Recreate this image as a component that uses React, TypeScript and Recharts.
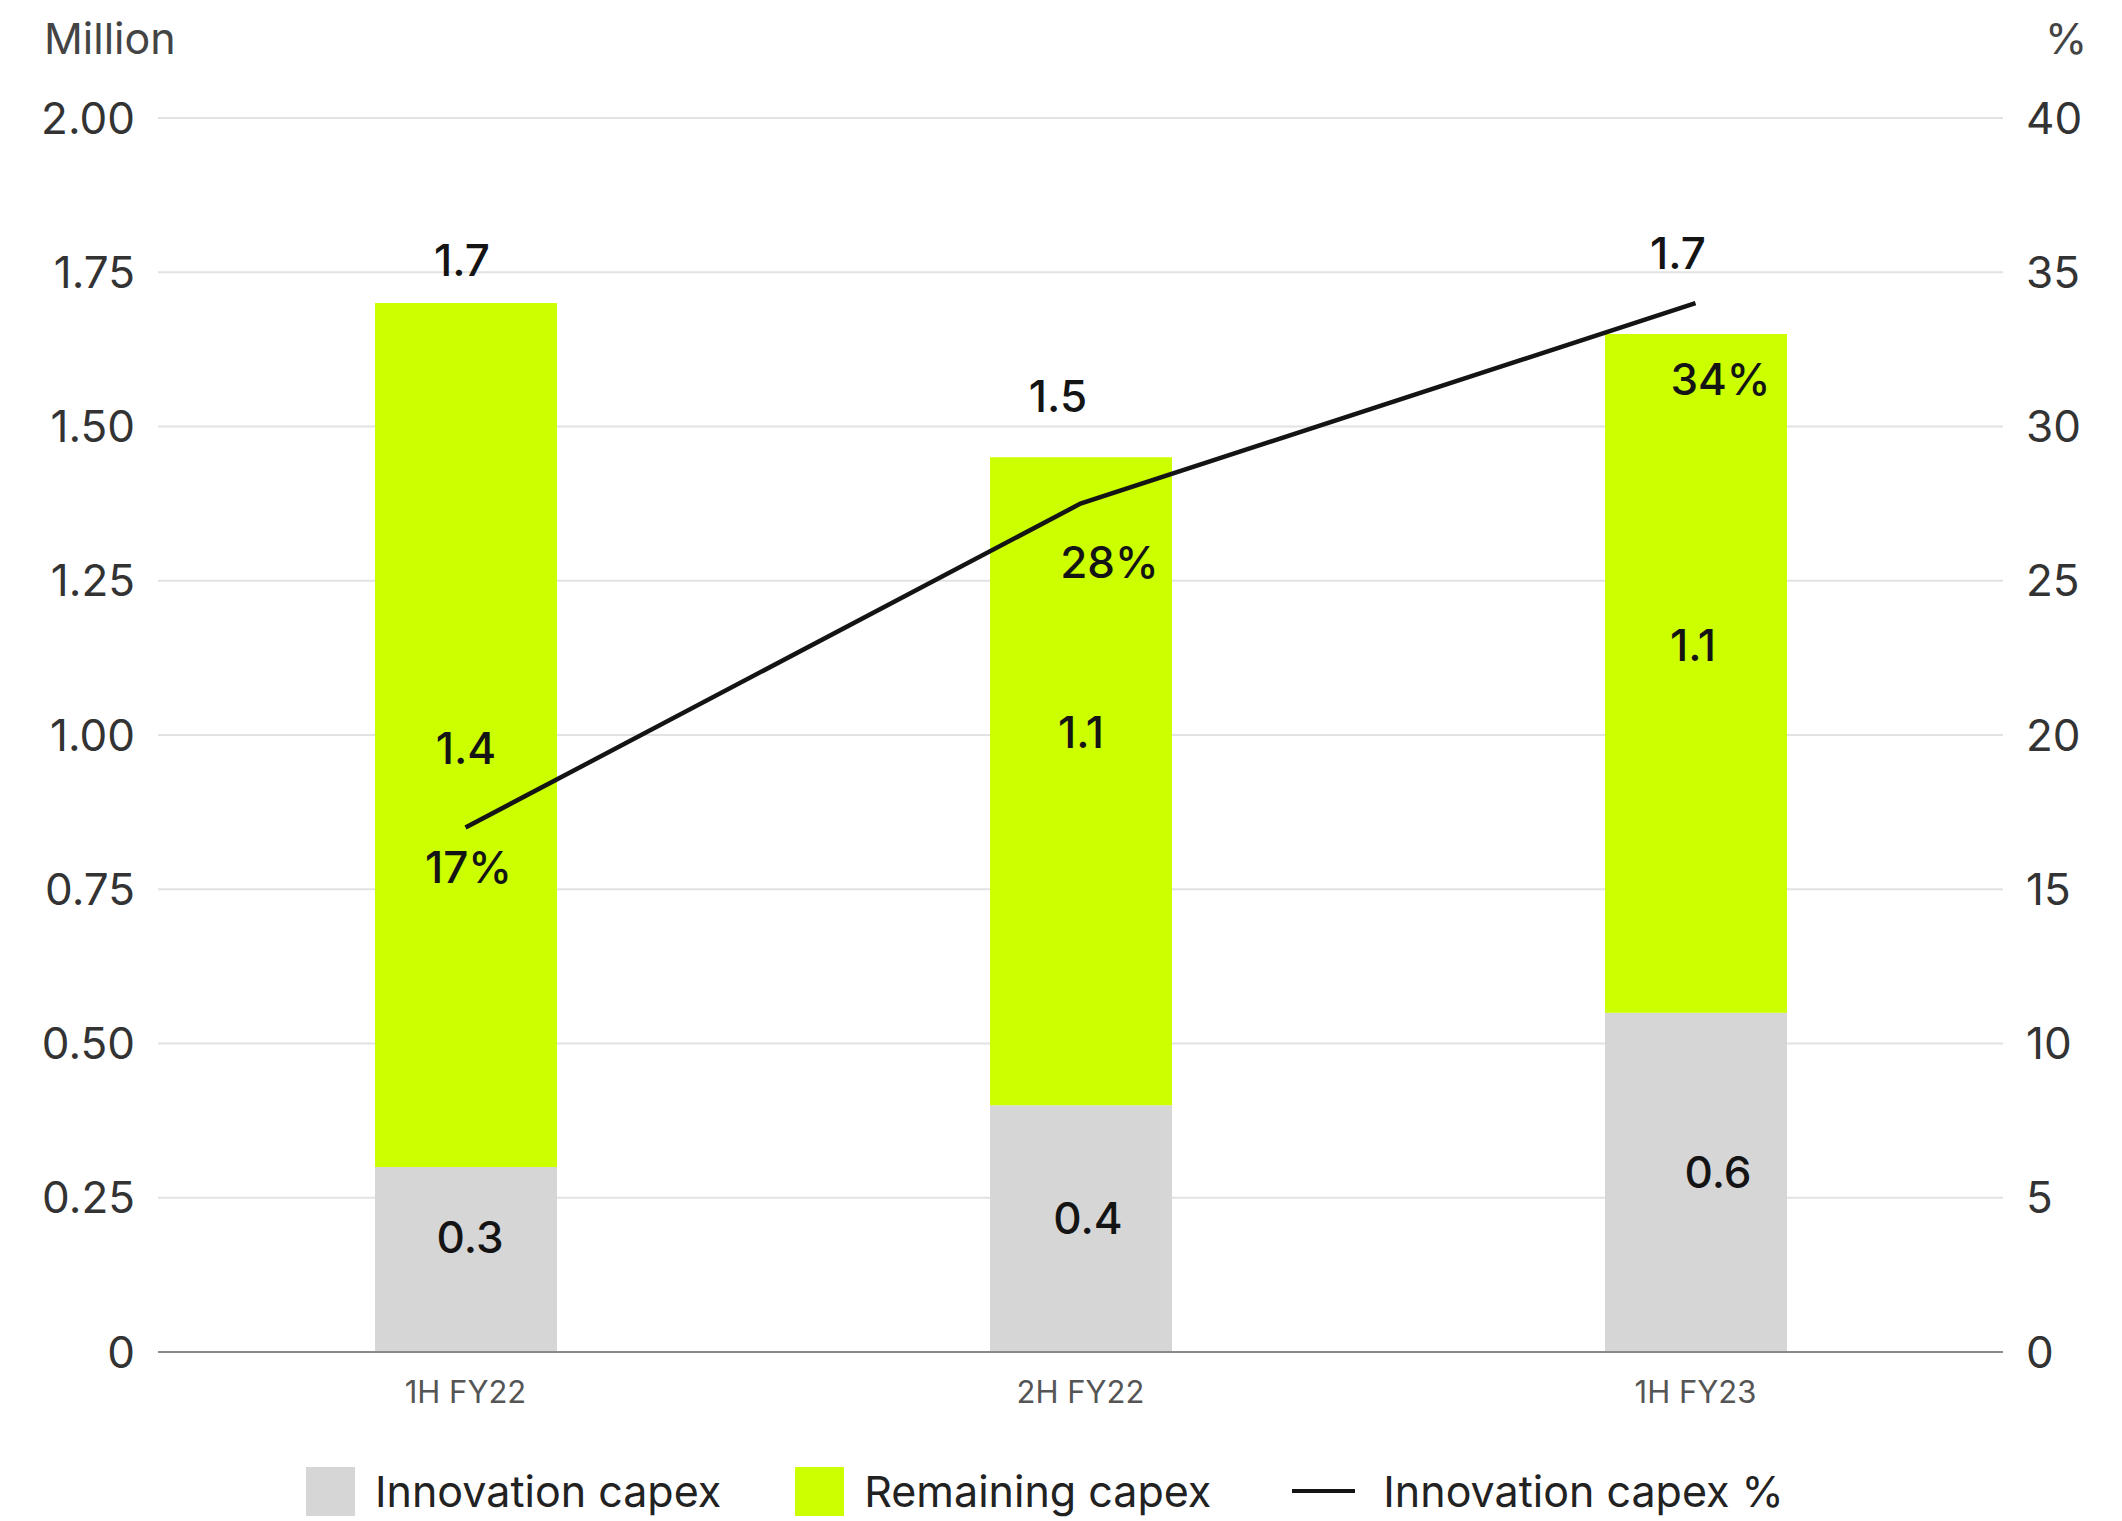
import { ComposedChart, Bar, Line, XAxis, YAxis, CartesianGrid, Legend, LabelList } from "recharts";

const periods = ["1H FY22", "2H FY22", "1H FY23"];
const innovationCapex = [0.3, 0.4, 0.55];
const remainingCapex = [1.4, 1.05, 1.1];
const innovationShare = [17, 27.5, 34];
const innovationLabels = ["0.3", "0.4", "0.6"];
const remainingLabels = ["1.4", "1.1", "1.1"];
const totalLabels = ["1.7", "1.5", "1.7"];
const leftTicks = [0, 0.25, 0.5, 0.75, 1, 1.25, 1.5, 1.75, 2];
const rightTicks = [0, 5, 10, 15, 20, 25, 30, 35, 40];

const data = periods.map((period, i) => ({
  period,
  innovation: innovationCapex[i],
  remaining: remainingCapex[i],
  share: innovationShare[i],
  innovationLabel: innovationLabels[i],
  remainingLabel: remainingLabels[i],
  totalLabel: totalLabels[i],
  shareLabel: `${Math.round(innovationShare[i])}%`,
}));

const FONT = "Inter, 'Liberation Sans', sans-serif";
const GREY = "#d6d6d6";
const LIME = "#ccff00";
const INK = "#141414";

const labelStyle = { fill: INK, fontSize: 44, fontWeight: 500, fontFamily: FONT };

// labels in the original are hand placed, so each one gets a small nudge
type Anchor = "center" | "edge";
const placeLabel = (anchor: Anchor, dx: number[], dy: number[]) => (props: any) => {
  const vb = props.viewBox ?? props;
  const x = Number(vb.x ?? props.x);
  const y = Number(vb.y ?? props.y);
  const w = Number(vb.width ?? 0);
  const h = Number(vb.height ?? 0);
  const i = props.index ?? 0;
  const cx = x + w / 2 + dx[i];
  const cy = (anchor === "center" ? y + h / 2 : y) + dy[i];
  return (
    <text x={cx} y={cy} textAnchor="middle" dominantBaseline="central" {...labelStyle}>
      {props.value}
    </text>
  );
};

function LegendContent() {
  const swatch = (bg: string) => <span style={{ width: 49, height: 49, background: bg, display: "inline-block" }} />;
  return (
    <div style={{ display: "flex", alignItems: "center", height: 60, paddingLeft: 306, fontFamily: FONT, fontSize: 43, color: "#222" }}>
      {swatch(GREY)}
      <span style={{ marginLeft: 20 }}>Innovation capex</span>
      <span style={{ marginLeft: 74 }} />
      {swatch(LIME)}
      <span style={{ marginLeft: 20 }}>Remaining capex</span>
      <span style={{ marginLeft: 81, width: 63, height: 4, background: INK, display: "inline-block" }} />
      <span style={{ marginLeft: 28 }}>Innovation capex %</span>
    </div>
  );
}

export default function App() {
  return (
    <div style={{ position: "relative", width: 2122, height: 1521, background: "#fff", fontFamily: FONT }}>
      <style>{"body{margin:0}"}</style>
      <div style={{ position: "absolute", left: 44, top: 12, fontSize: 43, color: "#444" }}>Million</div>
      <div style={{ position: "absolute", left: 2045, top: 12, fontSize: 43, color: "#444" }}>%</div>
      <ComposedChart width={2122} height={1521} data={data} margin={{ top: 118, right: 0, bottom: 0, left: 0 }} barSize={182}>
        <CartesianGrid vertical={false} stroke="#e2e2e2" strokeWidth={2} yAxisId="left" />
        <XAxis
          dataKey="period"
          height={109}
          axisLine={{ stroke: "#8a8a8a", strokeWidth: 2 }}
          tickLine={false}
          tickMargin={23}
          tick={{ fontSize: 31, fill: "#555", fontFamily: FONT }}
        />
        <YAxis
          yAxisId="left"
          width={158}
          domain={[0, 2]}
          ticks={leftTicks}
          axisLine={false}
          tickLine={false}
          tickMargin={17}
          tickFormatter={(v: number) => (v === 0 ? "0" : v.toFixed(2))}
          tick={{ fontSize: 44, fill: "#333", fontFamily: FONT }}
        />
        <YAxis
          yAxisId="right"
          orientation="right"
          width={119}
          domain={[0, 40]}
          ticks={rightTicks}
          axisLine={false}
          tickLine={false}
          tickMargin={17}
          tick={{ fontSize: 44, fill: "#333", fontFamily: FONT }}
        />
        <Legend verticalAlign="bottom" align="left" content={LegendContent} wrapperStyle={{ left: 0, width: 2122 }} />
        <Bar yAxisId="left" dataKey="innovation" stackId="capex" fill={GREY} name="Innovation capex" isAnimationActive={false}>
          <LabelList dataKey="innovationLabel" content={placeLabel("center", [4, 7, 22], [-22, -11, -10])} />
        </Bar>
        <Bar yAxisId="left" dataKey="remaining" stackId="capex" fill={LIME} name="Remaining capex" isAnimationActive={false}>
          <LabelList dataKey="remainingLabel" content={placeLabel("center", [0, 0, -3], [13, -49, -28])} />
          <LabelList dataKey="totalLabel" content={placeLabel("edge", [-4, -23, -18], [-43, -61, -81])} />
        </Bar>
        <Line
          yAxisId="right"
          type="linear"
          dataKey="share"
          stroke={INK}
          strokeWidth={4.5}
          dot={false}
          name="Innovation capex %"
          isAnimationActive={false}
        >
          <LabelList dataKey="shareLabel" content={placeLabel("edge", [3, 29, 25], [39, 58, 76])} />
        </Line>
      </ComposedChart>
    </div>
  );
}
